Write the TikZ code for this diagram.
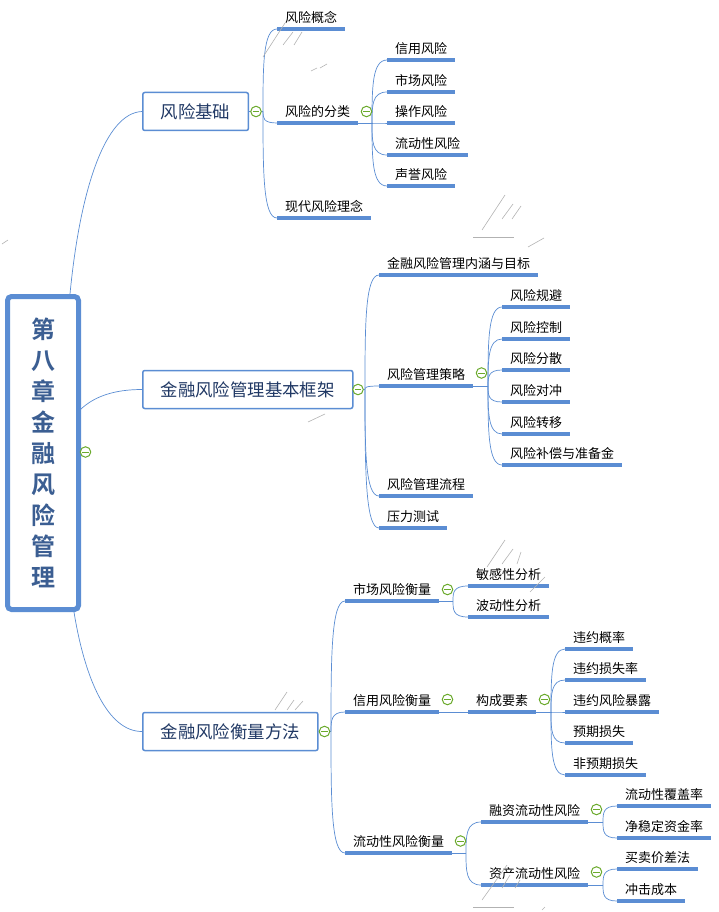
\documentclass[tikz,border=0pt]{standalone}
\usepackage{fontspec}
\usetikzlibrary{calc}
\setmainfont{Noto Sans CJK SC}[BoldFont={Noto Sans CJK SC Bold}]
\definecolor{linkblue}{HTML}{5B8DD3}
\definecolor{rootink}{HTML}{3B5E92}
\definecolor{boxink}{HTML}{203864}
\definecolor{foldgreen}{HTML}{6BAA2C}
\tikzset{
    rootbox/.style={draw=linkblue,line width=5pt,rounded corners=4pt,minimum width=71pt,minimum height=313pt,
        text=rootink,font=\fontsize{24}{31}\selectfont\bfseries,align=center,inner sep=0pt},
    mainbox/.style={draw=linkblue,line width=1.5pt,rounded corners=2pt,minimum height=38pt,anchor=west,
        text=boxink,font=\fontsize{17.4}{20}\selectfont,inner xsep=18pt,inner ysep=0pt},
    underbar/.style={draw=linkblue,line width=3.2pt},
    leaf/.style={anchor=south west,font=\fontsize{13}{15}\selectfont,text=black,inner xsep=8pt,inner ysep=3pt,
        text height=11pt,text depth=3.5pt,
        append after command={(\tikzlastnode.south west) edge[underbar] (\tikzlastnode.south east)}},
    link/.style={draw=linkblue,line width=0.7pt},
    fold/.style={circle,draw=foldgreen,fill=white,line width=1pt,minimum size=10.5pt,inner sep=0pt,
        path picture={\draw[foldgreen,line width=0.8pt] ([xshift=2pt]path picture bounding box.west) -- ([xshift=-2pt]path picture bounding box.east);}},
    scratch/.style={draw=black!30,line width=0.6pt}
}
\newcommand{\twig}[2]{\draw[link] (#1) .. controls ($(#1)!0.55!(#1 |- #2.south west)$) and (#1 |- #2.south west) .. (#2.south west);}
\begin{document}
\begin{tikzpicture}[x=1pt,y=-1pt]
    \useasboundingbox (0,0) rectangle (718,912);

    \node[rootbox] (root) at (43,453) {第\\八\\章\\金\\融\\风\\险\\管\\理};
    \coordinate (rootTop) at (70,294);
    \coordinate (rootMid) at (81,409);
    \coordinate (rootBot) at (74,612);

    \node[mainbox] (basics) at (142,111.5) {风险基础};
    \node[mainbox] (frame) at (142,389.5) {金融风险管理基本框架};
    \node[mainbox] (measure) at (142,731.5) {金融风险衡量方法};

    \draw[link] (rootTop) .. controls (80,190) and (105,113) .. (basics.west);
    \draw[link] (rootMid) .. controls (95,396) and (115,389.5) .. (frame.west);
    \draw[link] (rootBot) .. controls (85,680) and (108,731.5) .. (measure.west);

    % first branch
    \node[leaf] (concept) at (277,29) {风险概念};
    \node[leaf] (classes) at (277,123) {风险的分类};
    \node[leaf] (modern) at (277,218) {现代风险理念};
    \node[leaf] (credit) at (387,60) {信用风险};
    \node[leaf] (market) at (387,92) {市场风险};
    \node[leaf] (operate) at (387,123) {操作风险};
    \node[leaf] (liquid) at (387,155) {流动性风险};
    \node[leaf] (fame) at (387,186) {声誉风险};

    \coordinate (trunkA) at (263,111.5);
    \draw[link] (basics.east) -- (trunkA);
    \foreach \kid in {concept,classes,modern}
        {\twig{trunkA}{\kid}}
    \coordinate (trunkB) at (372,123);
    \draw[link] (classes.south east) -- (trunkB);
    \foreach \kid in {credit,market,operate,liquid,fame}
        {\twig{trunkB}{\kid}}

    % second branch
    \node[leaf] (aims) at (379,275) {金融风险管理内涵与目标};
    \node[leaf] (policy) at (379,386) {风险管理策略};
    \node[leaf] (flow) at (379,496) {风险管理流程};
    \node[leaf] (stress) at (379,528) {压力测试};
    \node[leaf] (avoid) at (502,307) {风险规避};
    \node[leaf] (control) at (502,339) {风险控制};
    \node[leaf] (spread) at (502,370) {风险分散};
    \node[leaf] (hedge) at (502,402) {风险对冲};
    \node[leaf] (shift) at (502,434) {风险转移};
    \node[leaf] (reserve) at (502,465) {风险补偿与准备金};

    \coordinate (trunkC) at (365,389.5);
    \draw[link] (frame.east) -- (trunkC);
    \foreach \kid in {aims,policy,flow,stress}
        {\twig{trunkC}{\kid}}
    \coordinate (trunkD) at (488,386);
    \draw[link] (policy.south east) -- (trunkD);
    \foreach \kid in {avoid,control,spread,hedge,shift,reserve}
        {\twig{trunkD}{\kid}}

    % third branch
    \node[leaf] (mrisk) at (345,601) {市场风险衡量};
    \node[leaf] (crisk) at (345,712) {信用风险衡量};
    \node[leaf] (lrisk) at (345,853) {流动性风险衡量};
    \node[leaf] (sense) at (468,586) {敏感性分析};
    \node[leaf] (swing) at (468,617) {波动性分析};
    \node[leaf] (parts) at (468,712) {构成要素};
    \node[leaf] (prob) at (565,649) {违约概率};
    \node[leaf] (lossrate) at (565,680) {违约损失率};
    \node[leaf] (expose) at (565,712) {违约风险暴露};
    \node[leaf] (expect) at (565,743) {预期损失};
    \node[leaf] (unexpect) at (565,775) {非预期损失};
    \node[leaf] (fund) at (481,822) {融资流动性风险};
    \node[leaf] (asset) at (481,885) {资产流动性风险};
    \node[leaf] (cover) at (617,806) {流动性覆盖率};
    \node[leaf] (stable) at (617,838) {净稳定资金率};
    \node[leaf] (spreadlaw) at (617,869) {买卖价差法};
    \node[leaf] (impact) at (617,901) {冲击成本};

    \coordinate (trunkE) at (331,731.5);
    \draw[link] (measure.east) -- (trunkE);
    \foreach \kid in {mrisk,crisk,lrisk}
        {\twig{trunkE}{\kid}}
    \coordinate (trunkF) at (453,601);
    \draw[link] (mrisk.south east) -- (trunkF);
    \foreach \kid in {sense,swing}
        {\twig{trunkF}{\kid}}
    \draw[link] (crisk.south east) -- (parts.south west);
    \coordinate (trunkG) at (551,712);
    \draw[link] (parts.south east) -- (trunkG);
    \foreach \kid in {prob,lossrate,expose,expect,unexpect}
        {\twig{trunkG}{\kid}}
    \coordinate (trunkH) at (466,853);
    \draw[link] (lrisk.south east) -- (trunkH);
    \foreach \kid in {fund,asset}
        {\twig{trunkH}{\kid}}
    \coordinate (trunkI) at (603,822);
    \draw[link] (fund.south east) -- (trunkI);
    \foreach \kid in {cover,stable}
        {\twig{trunkI}{\kid}}
    \coordinate (trunkJ) at (603,885);
    \draw[link] (asset.south east) -- (trunkJ);
    \foreach \kid in {spreadlaw,impact}
        {\twig{trunkJ}{\kid}}

    % fold marks
    \node[fold] (foldRoot) at (85.5,452) {};
    \node[fold] (foldA) at (256,111.5) {};
    \node[fold] (foldB) at (366.5,111.5) {};
    \node[fold] (foldC) at (358,389.5) {};
    \node[fold] (foldD) at (481.5,373) {};
    \node[fold] (foldE) at (324.5,731.5) {};
    \node[fold] (foldF) at (447.5,589.5) {};
    \node[fold] (foldG) at (447.5,699.5) {};
    \node[fold] (foldH) at (544.5,699.5) {};
    \node[fold] (foldI) at (460.5,841) {};
    \node[fold] (foldJ) at (596.5,809.5) {};
    \node[fold] (foldK) at (596.5,872) {};

    % stray marks
    \draw[scratch] (263,57) -- (285,23);
    \draw[scratch] (283,45) -- (293,32);
    \draw[scratch] (294,45) -- (302,32);
    \draw[scratch] (311,71) -- (317,68);
    \draw[scratch] (320,68) -- (327,64);
    \draw[scratch] (482,230) -- (505,195);
    \draw[scratch] (502,219) -- (513,204);
    \draw[scratch] (512,219) -- (521,206);
    \draw[scratch] (473,237) -- (514,237);
    \draw[scratch] (528,247) -- (544,238);
    \draw[scratch] (487,567) -- (505,540);
    \draw[scratch] (502,564) -- (513,549);
    \draw[scratch] (517,564) -- (521,552);
    \draw[scratch] (530,592) -- (545,577);
    \draw[scratch] (275,710) -- (287,692);
    \draw[scratch] (287,710) -- (294,700);
    \draw[scratch] (295,710) -- (303,701);
    \draw[scratch] (482,900) -- (507,865);
    \draw[scratch] (502,888) -- (510,875);
    \draw[scratch] (515,888) -- (520,880);
    \draw[scratch] (473,907) -- (514,907);
    \draw[scratch] (542,910) -- (545,907);
    \draw[scratch] (308,422) -- (325,414);
    \draw[scratch] (2,244) -- (8,240);
\end{tikzpicture}
\end{document}
